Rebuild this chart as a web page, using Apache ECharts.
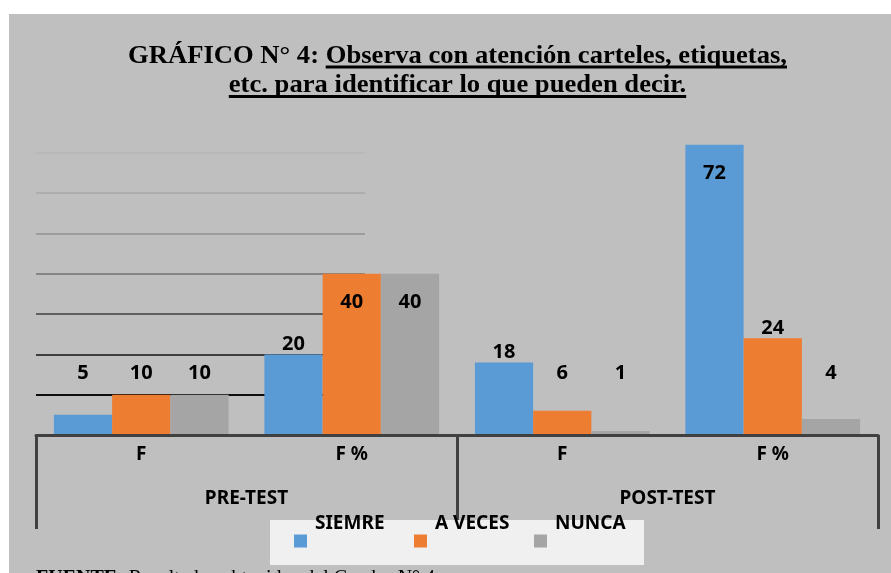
<!DOCTYPE html>
<html>
	<head>
		<meta charset="utf-8" />
		<title>Gráfico N° 4</title>
		<script src="https://cdn.jsdelivr.net/npm/echarts@6/dist/echarts.min.js"></script>
		<style>
			html, body {
				margin: 0;
				padding: 0;
				background: #ffffff;
			}
			#fondo {
				position: absolute;
				left: 9px;
				top: 14px;
				width: 882px;
				height: 559px;
				background: #bfbfbf;
			}
			#main {
				position: absolute;
				left: 0;
				top: 0;
				width: 891px;
				height: 573px;
			}
		</style>
	</head>
	<body>
		<div id="fondo"></div>
		<div id="main"></div>
		<script type="text/javascript">
			// datos del gráfico
			var categorias = ['F', 'F %', 'F', 'F %'];
			var grupos = ['PRE-TEST', 'POST-TEST'];
			var nombres = ['SIEMRE', 'A VECES', 'NUNCA'];
			var siempre = [5, 20, 18, 72];
			var aVeces = [10, 40, 6, 24];
			var nunca = [10, 40, 1, 4];

			var colores = ['#5b9bd5', '#ed7d31', '#a5a5a5'];
			var fuente = '"Noto Sans", "Open Sans", sans-serif';
			var serif = '"Liberation Serif", "Times New Roman", serif';

			// etiquetas como en el original: bajas a una altura fija, medianas encima, altas dentro
			function etiqueta(v) {
				if (v < 15) return { position: 'insideBottom', distance: 5, offset: [0, -47] };
				if (v < 30) return { position: 'top', distance: 0 };
				return { position: 'insideTop', distance: 18 };
			}

			function serie(nombre, valores, color) {
				return {
					name: nombre,
					type: 'bar',
					xAxisIndex: 0,
					yAxisIndex: 0,
					barGap: '0%',
					barCategoryGap: '17%',
					itemStyle: { color: color },
					label: {
						show: true,
						color: '#000',
						fontFamily: fuente,
						fontWeight: 'bold',
						fontSize: 20
					},
					data: valores.map(function (v) {
						return { value: v, label: etiqueta(v) };
					})
				};
			}

			// título con subrayado parcial (letra alta y estrecha, como el original)
			var ctx = document.createElement('canvas').getContext('2d');
			var fTitulo = 'bold 26px ' + serif;
			ctx.font = fTitulo;
			var escala = 659 / ctx.measureText('GRÁFICO N° 4: Observa con atención carteles, etiquetas,').width;

			function lineaTitulo(normal, subrayado, yMedio) {
				ctx.font = fTitulo;
				var w1 = normal ? ctx.measureText(normal).width * escala : 0;
				var w2 = ctx.measureText(subrayado).width * escala;
				var x0 = 457.5 - (w1 + w2) / 2;
				var el = [];
				if (normal) {
					el.push({ type: 'text', x: x0, y: yMedio, scaleX: escala, style: { text: normal, font: fTitulo, fill: '#000', align: 'left', verticalAlign: 'middle' } });
				}
				el.push({ type: 'text', x: x0 + w1, y: yMedio, scaleX: escala, style: { text: subrayado, font: fTitulo, fill: '#000', align: 'left', verticalAlign: 'middle' } });
				el.push({ type: 'line', shape: { x1: x0 + w1, y1: yMedio + 11, x2: x0 + w1 + w2, y2: yMedio + 11 }, style: { stroke: '#000', lineWidth: 3 } });
				return el;
			}

			ctx.font = 'bold 20px ' + serif;
			var wFuente = ctx.measureText('FUENTE:').width;

			var graficos = [].concat(
				lineaTitulo('GRÁFICO N° 4: ', 'Observa con atención carteles, etiquetas,', 56),
				lineaTitulo('', 'etc. para identificar lo que pueden decir.', 85.5),
				[
					{ type: 'rect', z: 5, shape: { x: 270, y: 520, width: 374, height: 45 }, style: { fill: '#f0f0f0' } },
					{ type: 'text', x: 36, y: 569, style: { text: 'FUENTE:', font: 'bold 20px ' + serif, fill: '#000', verticalAlign: 'top' } },
					{ type: 'text', x: 36 + wFuente, y: 569, style: { text: ' Resultados obtenidos del Cuadro N° 4', font: '20px ' + serif, fill: '#000', verticalAlign: 'top' } }
				]
			);

			var grafico = echarts.init(document.getElementById('main'));
			var opcion = {
				backgroundColor: 'transparent',
				animation: false,
				graphic: graficos,
				legend: {
					data: nombres,
					z: 8,
					left: 294,
					top: 514,
					padding: 0,
					itemWidth: 13,
					itemHeight: 13,
					itemGap: 7,
					icon: 'rect',
					formatter: function (n) { return '{t|' + n + '}'; },
					textStyle: {
						rich: {
							t: {
								fontFamily: fuente,
								fontWeight: 'bold',
								fontSize: 19,
								color: '#000',
								lineHeight: 20,
								width: 92,
								padding: [0, 0, 35, 3]
							}
						}
					}
				},
				grid: [
					{ left: 36, right: 13, top: 112.6, bottom: 138 },
					{ left: 36, width: 329, top: 112.6, bottom: 138 }
				],
				xAxis: [
					{
						type: 'category',
						gridIndex: 0,
						data: categorias,
						z: 3,
						axisLine: { lineStyle: { color: '#404040', width: 3 } },
						axisTick: { show: false },
						axisLabel: { color: '#000', fontFamily: fuente, fontWeight: 'bold', fontSize: 19, margin: 10 }
					},
					{
						type: 'category',
						gridIndex: 0,
						position: 'bottom',
						data: grupos,
						axisLine: { show: false },
						axisTick: { show: true, length: 94, lineStyle: { color: '#404040', width: 3 } },
						axisLabel: { color: '#000', fontFamily: fuente, fontWeight: 'bold', fontSize: 19, margin: 54 }
					},
					{ type: 'value', gridIndex: 1, show: false, min: 0, max: 1 }
				],
				yAxis: [
					{ type: 'value', gridIndex: 0, min: 0, max: 80, interval: 10, show: false },
					{
						type: 'value',
						gridIndex: 1,
						min: 0,
						max: 80,
						interval: 10,
						axisLine: { show: false },
						axisTick: { show: false },
						axisLabel: { show: false },
						splitLine: {
							show: true,
							lineStyle: {
								width: 2,
								color: ['rgba(0,0,0,0)', '#0d0d0d', '#3d3d3d', '#5f5f5f', '#858585', '#9c9c9c', '#adadad', '#b8b8b8', 'rgba(0,0,0,0)']
							}
						}
					}
				],
				series: [
					serie(nombres[0], siempre, colores[0]),
					serie(nombres[1], aVeces, colores[1]),
					serie(nombres[2], nunca, colores[2])
				]
			};
			grafico.setOption(opcion);
		</script>
	</body>
</html>
